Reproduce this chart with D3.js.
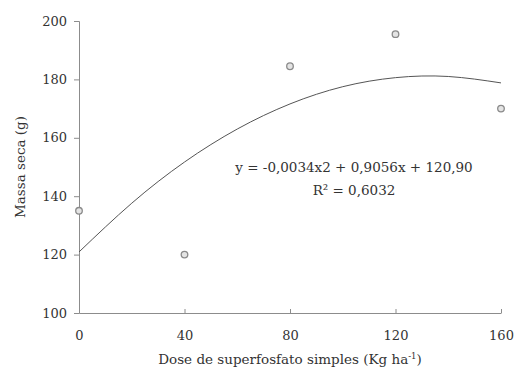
<!DOCTYPE html>
<html>
<head>
<meta charset="utf-8">
<script src="https://cdn.jsdelivr.net/npm/d3@7"></script>
<style>
  html, body { margin: 0; padding: 0; background: #fff; }
  svg { display: block; }
  svg text { font-family: 'DejaVu Serif', 'Liberation Serif', 'Noto Serif', Tinos, serif; }
</style>
</head>
<body>
<svg id="chart" width="515" height="374"></svg>
<script>
// Observed points: dose (kg/ha) vs dry mass (g)
const doses = [0, 40, 80, 120, 160];
const massa = [135, 120, 184.5, 195.5, 170];

// Fitted curve
const curveX = [0, 20, 40, 60, 80, 100, 120, 140, 160];
const curveY = [120.9, 137.6, 151.7, 163.0, 171.6, 177.5, 180.6, 181.0, 178.8];

const xTicks = [0, 40, 80, 120, 160];
const yTicks = [100, 120, 140, 160, 180, 200];

const C = {
  axis: '#8c8c8c',
  text: '#333',
  point: '#8a8a8a',
  line: '#555',
};

const svg = d3.select('#chart');
const m = { left: 79, right: 14, top: 21, bottom: 61 };
const W = 515, H = 374;

const x = d3.scaleLinear().domain([0, 160]).range([m.left, W - m.right]);
const y = d3.scaleLinear().domain([100, 200]).range([H - m.bottom, m.top]);

// Y axis
const yAxis = svg.append('g').attr('transform', `translate(${m.left},0)`)
  .call(d3.axisLeft(y).tickValues(yTicks).tickSize(5).tickPadding(7));
// X axis
const xAxis = svg.append('g').attr('transform', `translate(0,${y(100)})`)
  .call(d3.axisBottom(x).tickValues(xTicks).tickSize(-4).tickPadding(18).tickSizeOuter(0));

[yAxis, xAxis].forEach((g) => {
  g.attr('font-family', null);
  g.select('.domain').attr('stroke', C.axis);
  g.selectAll('.tick line').attr('stroke', C.axis);
  g.selectAll('.tick text').attr('fill', C.text).attr('font-size', 13);
});

// Fitted curve
const line = d3.line().x((d) => x(d[0])).y((d) => y(d[1])).curve(d3.curveNatural);
svg.append('path')
  .datum(curveX.map((v, i) => [v, curveY[i]]))
  .attr('d', line)
  .attr('fill', 'none').attr('stroke', C.line).attr('stroke-width', 1);

// Points
svg.selectAll('circle.pt').data(doses).enter().append('circle')
  .attr('class', 'pt')
  .attr('cx', (d) => x(d)).attr('cy', (d, i) => y(massa[i]))
  .attr('r', 3.3)
  .attr('fill', '#e4e4e4').attr('stroke', C.point).attr('stroke-width', 1.3);

// Equation
svg.append('text').attr('x', 354).attr('y', 172)
  .attr('text-anchor', 'middle').attr('fill', C.text).attr('font-size', 13.5)
  .text('y = -0,0034x2 + 0,9056x + 120,90');
svg.append('text').attr('x', 354).attr('y', 195)
  .attr('text-anchor', 'middle').attr('fill', C.text).attr('font-size', 13.5)
  .text('R² = 0,6032');

// Axis titles
svg.append('text')
  .attr('transform', `translate(25,${(m.top + H - m.bottom) / 2}) rotate(-90)`)
  .attr('text-anchor', 'middle').attr('fill', C.text).attr('font-size', 13.5)
  .text('Massa seca (g)');

const xt = svg.append('text').attr('x', 290).attr('y', 364)
  .attr('text-anchor', 'middle').attr('fill', C.text).attr('font-size', 13.5);
xt.append('tspan').text('Dose de superfosfato simples (Kg ha');
xt.append('tspan').attr('baseline-shift', 'super').attr('font-size', 8.5).text('-1');
xt.append('tspan').text(')');
</script>
</body>
</html>
